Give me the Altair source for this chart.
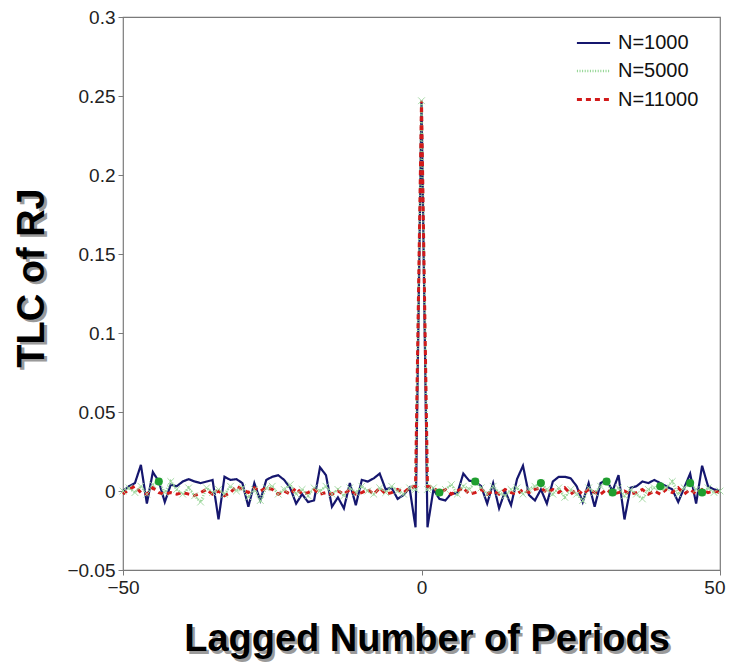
import altair as alt
import pandas as pd

lags = list(range(-50, 51))

n1000 = [0.000, 0.003, 0.005, 0.0165, -0.008, 0.012, 0.006, -0.007, 0.004, 0.003,
         0.006, 0.0075, 0.006, 0.005, 0.006, 0.007, -0.018, 0.009, 0.007, 0.0075,
         0.005, -0.010, 0.005, -0.006, 0.007, 0.009, 0.010, 0.007, 0.002, -0.008,
         -0.002, -0.007, -0.006, 0.015, 0.010, -0.010, -0.004, -0.011, 0.005, -0.009,
         0.007, 0.006, 0.008, 0.011, 0.001, 0.002, -0.005, -0.0025, 0.002, -0.023,
         0.247,
         -0.023, 0.001, -0.005, -0.006, -0.0015, -0.0015, 0.011, 0.0065, 0.006, 0.003,
         -0.008, 0.005, -0.011, 0.000, -0.009, 0.0075, 0.016, -0.0025, -0.006, 0.001,
         -0.008, 0.006, 0.009, 0.009, 0.008, 0.003, -0.007, 0.005, -0.010, 0.005,
         0.007, 0.000, 0.010, -0.018, 0.002, 0.003, 0.006, 0.005, 0.007, 0.005,
         0.003, 0.001, -0.007, 0.002, 0.011, -0.008, 0.016, 0.003, 0.001, 0.000]

n5000 = [0.000, 0.002, -0.001, 0.003, -0.002, 0.004, 0.006, -0.001, 0.006, 0.001,
         -0.002, 0.002, -0.003, -0.007, 0.002, -0.001, 0.001, -0.002, 0.003, 0.000,
         0.002, -0.004, 0.001, -0.006, 0.002, 0.003, -0.002, 0.001, 0.004, -0.002,
         0.001, -0.003, 0.002, 0.000, 0.003, -0.002, 0.001, -0.003, 0.002, -0.001,
         0.003, 0.000, -0.002, 0.002, -0.001, 0.003, 0.000, -0.002, 0.002, 0.001,
         0.247,
         0.001, 0.002, -0.001, 0.001, 0.004, -0.002, 0.003, 0.001, 0.006, 0.002,
         -0.002, 0.003, -0.001, -0.003, 0.001, 0.002, -0.002, 0.001, 0.003, 0.005,
         0.001, -0.002, 0.002, -0.004, 0.001, -0.002, -0.006, 0.002, -0.001, 0.003,
         0.006, -0.001, 0.002, -0.003, 0.001, -0.002, -0.005, 0.001, 0.002, 0.003,
         0.002, 0.006, -0.002, 0.002, 0.005, 0.001, -0.001, 0.002, -0.001, 0.000]

n11000 = [-0.002, 0.001, 0.003, -0.001, -0.002, 0.002, -0.001, -0.002, -0.001, -0.002,
          -0.001, -0.002, -0.003, -0.001, 0.001, -0.002, 0.000, -0.003, -0.001, 0.003,
          0.001, -0.001, 0.002, 0.000, 0.002, 0.001, -0.002, 0.000, -0.002, 0.002,
          -0.002, -0.001, 0.001, -0.002, -0.001, -0.002, 0.000, -0.002, 0.001, -0.002,
          -0.001, 0.001, -0.002, 0.002, -0.002, -0.001, 0.001, -0.001, 0.002, 0.003,
          0.247,
          0.003, 0.002, -0.001, 0.001, -0.002, 0.000, 0.002, -0.002, -0.001, 0.001,
          -0.002, 0.000, -0.002, 0.001, -0.001, -0.002, 0.001, -0.001, 0.001, 0.002,
          -0.001, 0.001, -0.001, 0.002, -0.002, 0.001, -0.002, 0.001, -0.001, -0.002,
          0.001, -0.002, -0.001, 0.000, -0.002, -0.001, 0.001, -0.002, 0.000, -0.002,
          0.001, -0.001, 0.002, -0.002, 0.001, -0.002, 0.001, -0.001, 0.000, -0.001]

circle_lags = [-44, 3, 9, 20, 31, 32, 40, 45, 47]
circle_vals = [0.006, -0.001, 0.006, 0.005, 0.006, -0.001, 0.003, 0.005, -0.001]

series_names = ["N=1000", "N=5000", "N=11000"]
series_colors = ["#15166e", "#8fd48f", "#d21a1a"]
series_dash = [[1, 0], [1, 1.6], [5, 4]]
series_width = [2.2, 3.0, 4.4]

y_ticks = [-0.05, 0, 0.05, 0.1, 0.15, 0.2, 0.25, 0.3]
x_ticks = [-50, 0, 50]
x_title = "Lagged Number of Periods"
y_title = "TLC of RJ"

rows = []
for name, vals in zip(series_names, [n1000, n5000, n11000]):
    for k, v in zip(lags, vals):
        rows.append({"lag": k, "value": v, "series": name})
df = pd.DataFrame(rows)
green_df = df[df.series == "N=5000"]
circles = pd.DataFrame({"lag": circle_lags, "value": circle_vals})

W, H = 597, 553
FONT = "Liberation Sans"
TFONT = "Liberation Sans Narrow, Liberation Sans"

xs = alt.Scale(domain=[-50, 50], nice=False, zero=False)
ys = alt.Scale(domain=[-0.05, 0.3], nice=False, zero=False)

x_enc = alt.X("lag:Q", scale=xs,
              axis=alt.Axis(values=x_ticks, format="d", title=None, labelFlush=False,
                            labelAlign={"condition": {"test": "datum.value == 50", "value": "right"},
                                        "value": "center"},
                            labelOffset={"condition": {"test": "datum.value == 50", "value": 5},
                                         "value": 0}))
y_enc = alt.Y("value:Q", scale=ys,
              axis=alt.Axis(values=y_ticks, format="~g", title=None, labelFlush=False))

lines = alt.Chart(df).mark_line(strokeCap="butt").encode(
    x=x_enc, y=y_enc,
    color=alt.Color("series:N", sort=series_names,
                    scale=alt.Scale(domain=series_names, range=series_colors),
                    legend=alt.Legend(title=None)),
    strokeDash=alt.StrokeDash("series:N", sort=series_names,
                              scale=alt.Scale(domain=series_names, range=series_dash),
                              legend=alt.Legend(title=None)),
    strokeWidth=alt.StrokeWidth("series:N", sort=series_names,
                                scale=alt.Scale(domain=series_names, range=series_width),
                                legend=alt.Legend(title=None)),
    order="lag:Q",
)

xmarks = alt.Chart(green_df).mark_point(
    shape="M-1,-1L1,1M-1,1L1,-1", filled=False, color="#9fd89f",
    size=45, strokeWidth=1, opacity=0.9
).encode(x="lag:Q", y="value:Q")

dots = alt.Chart(circles).mark_circle(color="#1f9e2f", size=65, opacity=1).encode(
    x="lag:Q", y="value:Q")

def title_marks(text, x, y, angle, baseline):
    sh = alt.Chart(pd.DataFrame({"t": [text]})).mark_text(
        font=TFONT, fontSize=38, fontWeight="bold", color="#9a9a9a",
        angle=angle, align="center", baseline=baseline
    ).encode(text="t:N", x=alt.value(x + 2.5), y=alt.value(y + 2.5))
    fg = alt.Chart(pd.DataFrame({"t": [text]})).mark_text(
        font=TFONT, fontSize=38, fontWeight="bold", color="#000000",
        angle=angle, align="center", baseline=baseline
    ).encode(text="t:N", x=alt.value(x), y=alt.value(y))
    return sh + fg

xt = title_marks(x_title, 304, 634, 0, "alphabetic")
yt = title_marks(y_title, -90, 261, 270, "middle")

chart = alt.layer(lines, xmarks, dots, xt, yt).properties(
    width=W, height=H,
    autosize=alt.AutoSizeParams(type="none"),
    padding={"left": 115, "top": 9, "right": 6, "bottom": 92},
).configure_view(
    stroke="#7a7a7a", strokeWidth=1.2
).configure_axis(
    domain=False, grid=False, ticks=True, tickSize=5, tickColor="#7a7a7a",
    labelFont=FONT, labelFontSize=19, labelColor="#222222", labelPadding=3,
).configure_legend(
    orient="none", legendX=452, legendY=8, symbolType="stroke",
    symbolSize=1100, labelFont=FONT, labelFontSize=20, labelColor="#111111",
    labelOffset=6, rowPadding=-4, padding=0,
)

chart.save("out.html", embed_options={"renderer": "svg", "actions": False})
